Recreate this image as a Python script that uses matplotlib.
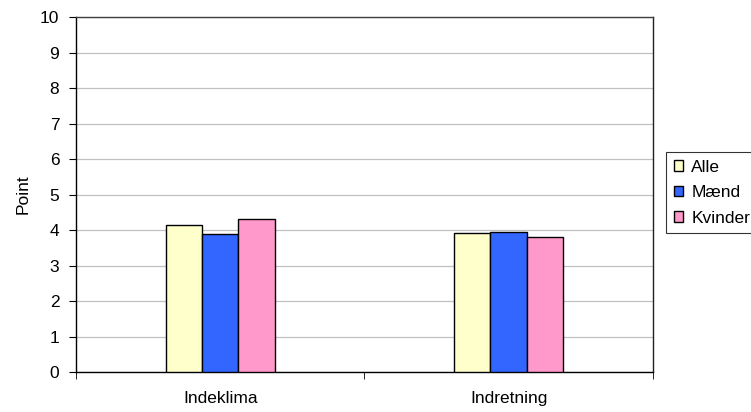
import numpy as np
import matplotlib.pyplot as plt

plt.rcParams['font.family'] = ['Liberation Sans', 'DejaVu Sans']

categories = ['Indeklima', 'Indretning']
series_names = ['Alle', 'Mænd', 'Kvinder']
alle = [4.14, 3.91]
maend = [3.88, 3.94]
kvinder = [4.30, 3.80]
colors = ['#ffffcc', '#3366ff', '#ff99cc']

fig = plt.figure(figsize=(7.51, 4.12), dpi=100)
ax = fig.add_axes([0.1012, 0.097, 0.7683, 0.8617])

x = np.arange(len(categories))
w = 0.1265
for i, (vals, name, c) in enumerate(zip([alle, maend, kvinder], series_names, colors)):
    ax.bar(x + (i - 1) * w, vals, width=w, color=c, edgecolor='black',
           linewidth=1.0, label=name, zorder=3)

ax.set_xlim(-0.5, 1.5)
ax.set_ylim(0, 10)
ax.set_yticks(range(0, 11))
ax.yaxis.grid(True, color='#c0c0c0', linewidth=0.9, zorder=0)

fs = 12.5
ax.set_xticks(x)
ax.set_xticklabels(categories, fontsize=fs)
ax.tick_params(axis='x', which='major', length=0, pad=14)
ax.set_xticks([-0.5, 0.5, 1.5], minor=True)
ax.tick_params(axis='x', which='minor', length=5, direction='out', color='black')
ax.tick_params(axis='y', length=5, labelsize=fs, pad=7)
ax.set_ylabel('Point', fontsize=fs, labelpad=7)

for s in ax.spines.values():
    s.set_color('black')
    s.set_linewidth(1.0)
ax.spines['top'].set_color('#404040')
ax.spines['right'].set_color('#202020')

leg = fig.legend(loc='upper left', bbox_to_anchor=(0.8868, 0.631),
                 fontsize=fs, frameon=True, fancybox=False, edgecolor='black',
                 handlelength=0.55, handleheight=0.55, handletextpad=0.45,
                 borderpad=0.45, labelspacing=0.6, borderaxespad=0)
leg.get_frame().set_linewidth(0.8)

fig.savefig('out.png', dpi=100)
